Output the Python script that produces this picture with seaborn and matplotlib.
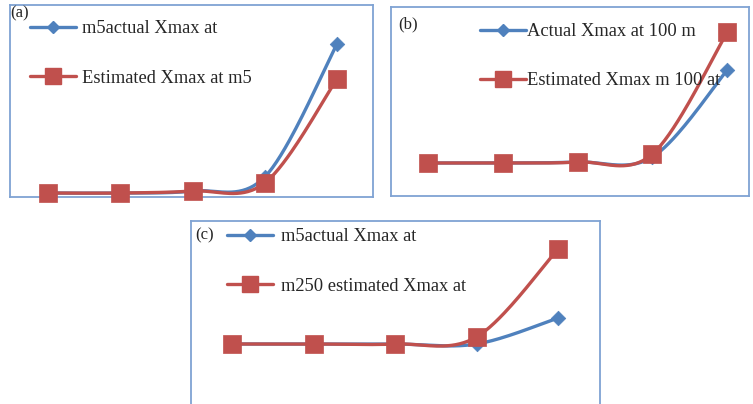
import numpy as np
import pandas as pd
import matplotlib
matplotlib.use('Agg')
import matplotlib.pyplot as plt
from matplotlib.lines import Line2D
import seaborn as sns

# data (relative Xmax values, 5 points per series)
points = [1, 2, 3, 4, 5]

a_actual = [4, 4, 6, 20, 153]
a_estimated = [4, 4, 6, 14, 118]
a_labels = ['m5actual Xmax at', 'Estimated Xmax at m5']

b_actual = [33, 33, 34, 39, 126]
b_estimated = [33, 33, 34, 42, 164]
b_labels = ['Actual Xmax at 100 m', 'Estimated Xmax m 100 at']

c_actual = [62, 62, 62, 62, 88]
c_estimated = [62, 62, 62, 69, 157]
c_labels = ['m5actual Xmax at', 'm250 estimated Xmax at']

BLUE = '#4F81BD'
RED = '#C0504D'
BORDER = '#7FA3D3'
FONT = 'Liberation Serif'


def smooth(xs, ys, n=40):
    # excel style smoothed line (catmull-rom bezier)
    p = np.column_stack([xs, ys]).astype(float)
    p = np.vstack([p[0], p, p[-1]])
    out = []
    for i in range(1, len(p) - 2):
        p0, p1, p2, p3 = p[i - 1], p[i], p[i + 1], p[i + 2]
        c1 = p1 + (p2 - p0) / 6
        c2 = p2 - (p3 - p1) / 6
        t = np.linspace(0, 1, n)[:, None]
        seg = ((1 - t) ** 3) * p1 + 3 * ((1 - t) ** 2) * t * c1 + 3 * (1 - t) * t ** 2 * c2 + t ** 3 * p2
        out.append(seg if i == 1 else seg[1:])
    out = np.vstack(out)
    return out[:, 0], out[:, 1]


def panel(ax, actual, estimated, labels, tag, xlim, ylim, leg_anchor, tag_pos, textpad):
    for vals, col, mk, ms in [(actual, BLUE, 'D', 55), (estimated, RED, 's', 150)]:
        sx, sy = smooth(points, vals)
        sns.lineplot(x=sx, y=sy, sort=False, estimator=None, color=col, lw=2.4, ax=ax)
        sns.scatterplot(x=points, y=vals, marker=mk, s=ms, color=col, edgecolor=col,
                        linewidth=0.5, ax=ax, zorder=5, clip_on=False)
    ax.set_xlim(*xlim)
    ax.set_ylim(*ylim)
    ax.set_xticks([])
    ax.set_yticks([])
    ax.set_xlabel('')
    ax.set_ylabel('')
    for s in ax.spines.values():
        s.set_visible(True)
        s.set_color(BORDER)
        s.set_linewidth(1.3)
    handles = [Line2D([], [], color=BLUE, lw=2.4, marker='D', markersize=6),
               Line2D([], [], color=RED, lw=2.4, marker='s', markersize=11)]
    ax.legend(handles, labels, loc='upper left', bbox_to_anchor=leg_anchor, frameon=False,
              prop={'family': FONT, 'size': 13.3}, handlelength=2.5, handletextpad=textpad,
              labelspacing=1.75, borderpad=0, borderaxespad=0)
    ax.text(tag_pos[0], tag_pos[1], tag, transform=ax.transAxes, family=FONT,
            fontsize=12, ha='left', va='center')


sns.set_style('white')
plt.rcParams['font.family'] = FONT

fig = plt.figure(figsize=(7.53, 4.04), dpi=100)
ax_a = fig.add_axes([10 / 753, 1 - 197 / 404, 363 / 753, 192 / 404])
ax_b = fig.add_axes([391 / 753, 1 - 196 / 404, 358 / 753, 189 / 404])
ax_c = fig.add_axes([191 / 753, 1 - 406 / 404, 409 / 753, 185 / 404])

panel(ax_a, a_actual, a_estimated, a_labels, '(a)', (0.474, 5.498), (0, 192),
      (0.055, 0.92), (0.0, 0.955), 0.33)
panel(ax_b, b_actual, b_estimated, b_labels, '(b)', (0.505, 5.29), (0, 189),
      (0.249, 0.915), (0.02, 0.91), 0.02)
panel(ax_c, c_actual, c_estimated, c_labels, '(c)', (0.497, 5.515), (0, 185),
      (0.088, 0.96), (0.01, 0.92), 0.4)

fig.savefig('out.png', dpi=100)
